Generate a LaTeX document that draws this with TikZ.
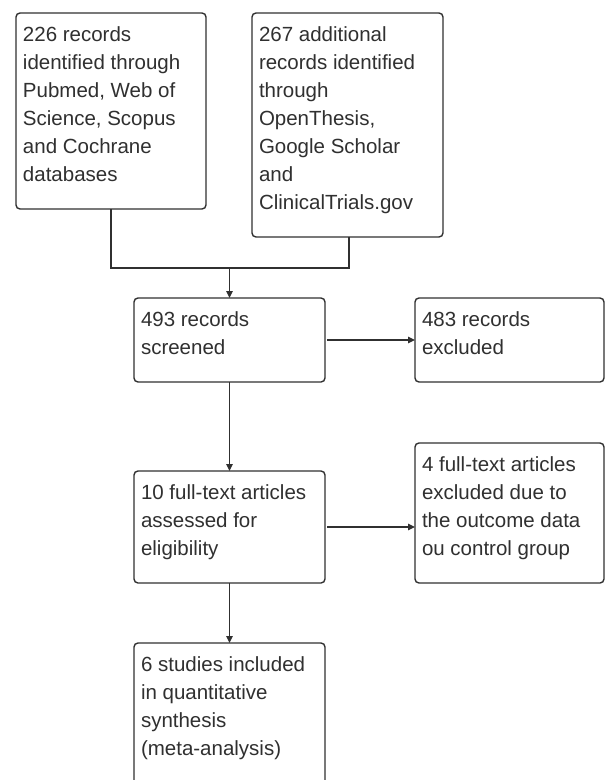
\documentclass[tikz,border=0pt]{standalone}
\usepackage{fontspec}
\setmainfont{Liberation Sans}
\usetikzlibrary{arrows.meta}
\definecolor{ink}{HTML}{303030}
\newcommand{\boxtext}[3]{\parbox[b][#1][t]{#2}{\fontsize{20.5}{28}\selectfont\raggedright\rule{0pt}{28pt}#3}}
\tikzset{
  flowbox/.style={draw=ink, line width=1.4pt, rounded corners=4pt, inner xsep=7pt, inner ysep=0pt, outer sep=0pt, anchor=north west, text=ink},
  conn/.style={draw=ink, line width=1.4pt},
  arr/.style={conn, -{Triangle[length=7pt,width=6.5pt]}}
}
\begin{document}
\begin{tikzpicture}[x=1pt,y=-1pt]
\clip (0,0) rectangle (605,780);
\fill[white] (0,0) rectangle (605,780);
\node[flowbox] (a) at (16,13) {\boxtext{196pt}{176pt}{226 records\\identified through\\Pubmed, Web of\\Science, Scopus\\and Cochrane\\databases}};
\node[flowbox] (b) at (252,13) {\boxtext{224pt}{177pt}{267 additional\\records identified\\through\\OpenThesis,\\Google Scholar\\and\\ClinicalTrials.gov}};
\node[flowbox] (c) at (134,298) {\boxtext{84pt}{177pt}{493 records\\screened}};
\node[flowbox] (d) at (415,298) {\boxtext{84pt}{175pt}{483 records\\excluded}};
\node[flowbox] (e) at (134,471) {\boxtext{112pt}{177pt}{10 full-text articles\\assessed for\\eligibility}};
\node[flowbox] (f) at (415,443) {\boxtext{140pt}{175pt}{4 full-text articles\\excluded due to\\the outcome data\\ou control group}};
\node[flowbox] (g) at (134,643) {\boxtext{160pt}{177pt}{6 studies included\\in quantitative\\synthesis\\(meta-analysis)}};
\coordinate (m) at (c.north |- 0,268);
\draw[conn] (a.south) |- (m);
\draw[conn] ([xshift=1.5pt]b.south) |- (m);
\draw[arr] (m) -- (c.north);
\draw[arr, shorten <=2pt] (c.east) -- (d.west);
\draw[arr] (c.south) -- (e.north);
\draw[arr, shorten <=2pt] (e.east) -- (e.east -| f.west);
\draw[arr] (e.south) -- (g.north);
\end{tikzpicture}
\end{document}
